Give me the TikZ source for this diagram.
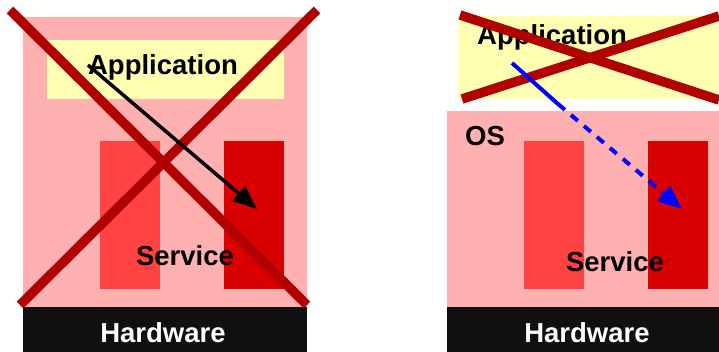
\documentclass[tikz,border=0pt]{standalone}
\usepackage{fontspec}
\setmainfont{Liberation Sans}
\usetikzlibrary{arrows.meta}
\definecolor{ospink}{RGB}{255,176,176}
\definecolor{appyellow}{RGB}{255,255,178}
\definecolor{barred}{RGB}{255,66,66}
\definecolor{bardark}{RGB}{216,0,0}
\definecolor{crossred}{RGB}{176,0,0}
\definecolor{hwblack}{RGB}{16,16,16}

\tikzset{
  blk/.style={inner sep=0pt, outer sep=0pt},
  lbl/.style={font=\fontsize{27.5}{30}\bfseries\selectfont, inner sep=0pt},
  cross/.style={draw=crossred, line width=9.5pt},
  callarrow/.style={-{Triangle[length=24pt,width=19pt]}},
}

\begin{document}
\begin{tikzpicture}[x=1pt,y=-1pt]
\useasboundingbox (0,0) rectangle (719,352);

% left: monolithic system
\node[blk, fill=ospink, minimum width=284pt, minimum height=290pt] (osL) at (165,162) {};
\node[blk, fill=appyellow, minimum width=237pt, minimum height=59pt] (appL) at (165.5,69.5) {};
\node[lbl] (appLtxt) at (163,67) {Application};
\node[blk, fill=barred, minimum width=60pt, minimum height=148pt] (svcLa) at (130,215) {};
\node[blk, fill=bardark, minimum width=60pt, minimum height=148pt] (svcLb) at (254,215) {};
\node[lbl] (svcLtxt) at (185,256) {Service};
\node[blk, fill=hwblack, minimum width=284pt, minimum height=45pt] (hwL) at (165,329.5) {};
\node[lbl, text=white] (hwLtxt) at (163,333) {Hardware};
\draw[cross] (10,10) -- (307,305);
\draw[cross] (317,10) -- (20,305);
\coordinate (callL) at (88,65);
\coordinate (tipL) at (257,209);
\draw[callarrow, line width=3.5pt] (callL) -- (tipL);

% right: application crossed out, OS remains
\node[blk, fill=appyellow, minimum width=261pt, minimum height=83pt] (appR) at (588.5,57.5) {};
\node[lbl, anchor=west] (appRtxt) at (477,37) {Application};
\node[blk, fill=ospink, minimum width=272pt, minimum height=196pt] (osR) at (583,209) {};
\node[lbl] (osRtxt) at (485,136) {OS};
\node[blk, fill=barred, minimum width=60pt, minimum height=148pt] (svcRa) at (554,215) {};
\node[blk, fill=bardark, minimum width=60pt, minimum height=148pt] (svcRb) at (678,215) {};
\node[lbl] (svcRtxt) at (615,262) {Service};
\node[blk, fill=hwblack, minimum width=272pt, minimum height=45pt] (hwR) at (583,329.5) {};
\node[lbl, text=white] (hwRtxt) at (587,333) {Hardware};
\draw[cross] (460,15) -- (719,100);
\draw[cross] (462,99) -- (719,16);
\coordinate (callR) at (512,63);
\coordinate (midR) at (558,104);
\coordinate (tipR) at (682,209);
\draw[blue, line width=4pt] (callR) -- (midR);
\draw[blue, line width=4pt, dash pattern=on 9pt off 8pt, callarrow] (midR) -- (tipR);
\end{tikzpicture}
\end{document}
